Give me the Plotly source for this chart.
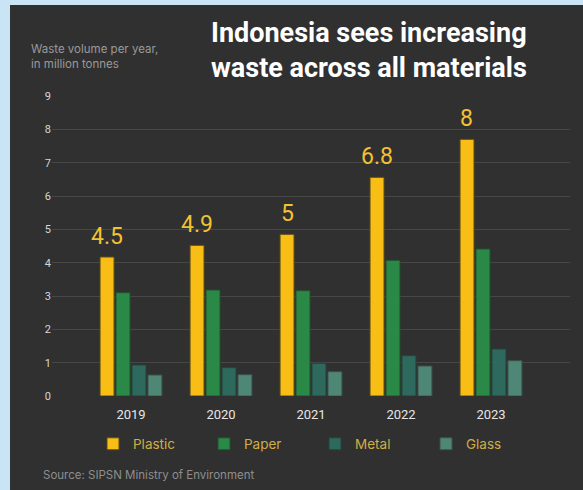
import plotly.graph_objects as go

years = ["2019", "2020", "2021", "2022", "2023"]
plastic = [4.17, 4.52, 4.85, 6.56, 7.70]
paper = [3.10, 3.18, 3.16, 4.07, 4.41]
metal = [0.93, 0.85, 0.98, 1.21, 1.41]
glass = [0.63, 0.64, 0.73, 0.90, 1.06]
plastic_labels = ["4.5", "4.9", "5", "6.8", "8"]
y_ticks = [0, 1, 2, 3, 4, 5, 6, 7, 8, 9]

BG = "#303030"
OUTER = "#c9e5f5"
colors = {"Plastic": "#f8be15", "Paper": "#2a8946", "Metal": "#2d6a5d", "Glass": "#4f8777"}
edges = {"Plastic": "#5c4d14", "Paper": "#24502f", "Metal": "#27433d", "Glass": "#3a5049"}

fig = go.Figure()
for name, vals in [("Plastic", plastic), ("Paper", paper), ("Metal", metal), ("Glass", glass)]:
    fig.add_trace(go.Bar(
        x=years, y=vals, name=name,
        marker=dict(color=colors[name], line=dict(color=edges[name], width=1)),
        hoverinfo="skip",
    ))

for i, (v, lab) in enumerate(zip(plastic, plastic_labels)):
    fig.add_annotation(x=i, y=v, text=lab, showarrow=False,
                       xshift=-24, yshift=21,
                       font=dict(family="Roboto, Arial", size=23, color="#f2c230"))

L, R, T, B = 52, 13, 96, 94
W, H = 583, 490
pw, ph = W - L - R, H - T - B

def px_x(p):
    return (p - L) / pw

def px_y(p):
    return (H - B - p) / ph

fig.add_shape(type="rect", xref="paper", yref="paper", layer="below",
              x0=px_x(10), x1=px_x(600), y0=px_y(520), y1=px_y(5),
              fillcolor=BG, line=dict(width=0))

fig.add_annotation(xref="paper", yref="paper", x=px_x(209), y=px_y(15),
                   xanchor="left", yanchor="top", align="left", showarrow=False,
                   text="<b>Indonesia sees increasing<br>waste across all materials</b>",
                   font=dict(family="Roboto, Arial", size=27, color="#ffffff"))
fig.add_annotation(xref="paper", yref="paper", x=px_x(29), y=px_y(40),
                   xanchor="left", yanchor="top", align="left", showarrow=False,
                   text="Waste volume per year,<br>in million tonnes",
                   font=dict(family="Inter, Open Sans, Arial", size=11.5, color="#9a9a9a"))
fig.add_annotation(xref="paper", yref="paper", x=px_x(41), y=px_y(475),
                   xanchor="left", yanchor="middle", align="left", showarrow=False,
                   text="Source: SIPSN Ministry of Environment",
                   font=dict(family="Inter, Open Sans, Arial", size=11.5, color="#8e8e8e"))

fig.update_layout(
    width=W, height=H,
    margin=dict(l=L, r=R, t=T, b=B),
    paper_bgcolor=OUTER, plot_bgcolor="rgba(0,0,0,0)",
    barmode="group", bargap=0.29, bargroupgap=0.125,
    showlegend=True,
    legend=dict(orientation="h", x=px_x(93), y=px_y(444), xanchor="left", yanchor="middle",
                font=dict(family="Inter, Open Sans, Arial", size=13.5, color="#d0ad45"),
                bgcolor="rgba(0,0,0,0)", entrywidth=66, entrywidthmode="pixels",
                itemclick=False, itemdoubleclick=False),
    xaxis=dict(type="category", range=[-0.878, 4.878], showgrid=False, zeroline=False,
               showline=False, ticks="", ticklen=0, ticklabelstandoff=9,
               tickfont=dict(family="Roboto, Arial", size=13, color="#e6e6e6")),
    yaxis=dict(range=[0, 9], tickvals=y_ticks, showgrid=True, gridcolor="#474747", gridwidth=1,
               zeroline=False, showline=False, ticks="",
               tickfont=dict(family="Roboto, Arial", size=11, color="#d6d6d6")),
    font=dict(family="Roboto, Arial"),
)

fig.write_html("out.html", config={"displayModeBar": False},
               post_script="document.body.style.margin='0';")
